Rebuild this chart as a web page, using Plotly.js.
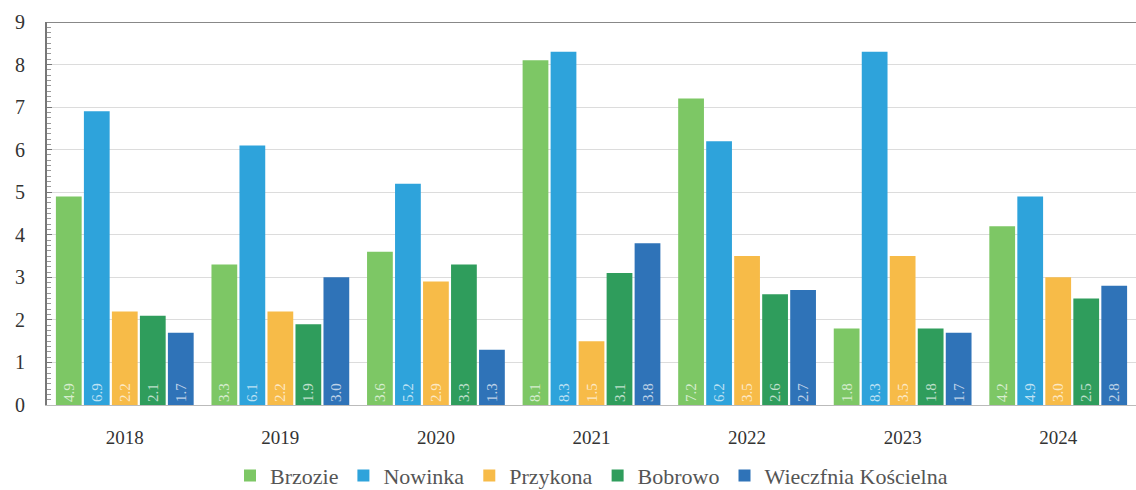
<!DOCTYPE html>
<html>
<head>
<meta charset="utf-8">
<script src="https://cdn.plot.ly/plotly-3.0.1.min.js"></script>
<style>html,body{margin:0;padding:0;background:#fff;}#chart{width:1136px;height:490px;}</style>
</head>
<body>
<div id="chart"></div>
<script>
const years = ['2018', '2019', '2020', '2021', '2022', '2023', '2024'];
const seriesNames = ['Brzozie', 'Nowinka', 'Przykona', 'Bobrowo', 'Wieczfnia Kościelna'];
const brzozie = [4.9, 3.3, 3.6, 8.1, 7.2, 1.8, 4.2];
const nowinka = [6.9, 6.1, 5.2, 8.3, 6.2, 8.3, 4.9];
const przykona = [2.2, 2.2, 2.9, 1.5, 3.5, 3.5, 3.0];
const bobrowo = [2.1, 1.9, 3.3, 3.1, 2.6, 1.8, 2.5];
const wieczfnia = [1.7, 3.0, 1.3, 3.8, 2.7, 1.7, 2.8];
const yTicks = [0, 1, 2, 3, 4, 5, 6, 7, 8, 9];

const SERIF = 'Liberation Serif';
const values = [brzozie, nowinka, przykona, bobrowo, wieczfnia];
const colors = ['#7dc765', '#2ea3db', '#f7bb48', '#2f9d5c', '#2f73b8'];

const traces = values.map((v, i) => ({
  type: 'bar',
  name: seriesNames[i],
  x: years,
  y: v,
  marker: {color: colors[i]},
  text: v.map(n => n.toFixed(1)),
  textposition: 'inside',
  insidetextanchor: 'start',
  textangle: -90,
  textfont: {family: SERIF, size: 15, color: 'rgba(255,255,255,0.7)'},
  hoverinfo: 'x+y+name'
}));

const layout = {
  width: 1136,
  height: 490,
  margin: {l: 47, r: 0, t: 22, b: 85, autoexpand: false},
  paper_bgcolor: '#fff',
  plot_bgcolor: '#fff',
  barmode: 'group',
  bargap: 0.1,
  bargroupgap: 0.08,
  font: {family: SERIF, color: '#333'},
  xaxis: {
    type: 'category',
    tickfont: {family: SERIF, size: 19, color: '#333'},
    showline: true,
    linecolor: '#bbb',
    linewidth: 1,
    ticks: '',
    showgrid: false,
    zeroline: false,
    ticklabelstandoff: 15
  },
  yaxis: {
    range: [0, 9],
    tickvals: yTicks,
    ticktext: yTicks.map(String),
    tickfont: {family: SERIF, size: 20, color: '#333'},
    showline: true,
    linecolor: '#777',
    linewidth: 2,
    mirror: false,
    ticks: 'inside',
    ticklen: 5,
    tickcolor: '#777',
    showgrid: true,
    gridcolor: '#dcdcdc',
    gridwidth: 1,
    zeroline: false,
    ticklabelstandoff: 16,
    minor: {dtick: 0.125, ticks: 'inside', ticklen: 4, tickcolor: '#999', showgrid: false}
  },
  shapes: [{
    type: 'line', xref: 'paper', yref: 'y', x0: 0, x1: 1, y0: 9, y1: 9,
    line: {color: '#888', width: 2}
  }],
  legend: {
    orientation: 'h',
    x: 0.5, xanchor: 'center',
    yref: 'paper',
    y: -0.13, yanchor: 'top',
    font: {family: SERIF, size: 22, color: '#555'},
    itemwidth: 30,
    traceorder: 'normal'
  },
  showlegend: true
};

Plotly.newPlot('chart', traces, layout, {displayModeBar: false, staticPlot: true});
</script>
</body>
</html>
